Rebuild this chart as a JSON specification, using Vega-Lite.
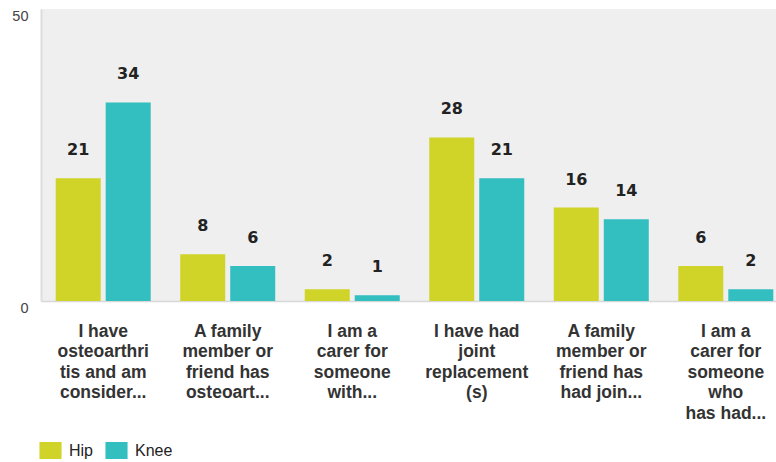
{
  "$schema": "https://vega.github.io/schema/vega-lite/v6.json",
  "width": 735,
  "height": 292,
  "padding": {"left": 5, "top": 8, "right": 0, "bottom": 0},
  "background": "#ffffff",
  "config": {
    "view": {"fill": "#efefef", "stroke": null},
    "axis": {"ticks": false, "grid": false}
  },
  "data": {
    "values": [
      {"cat": "I have|osteoarthri|tis and am|consider...", "ord": 1, "series": "Hip", "value": 21},
      {"cat": "I have|osteoarthri|tis and am|consider...", "ord": 1, "series": "Knee", "value": 34},
      {"cat": "A family|member or|friend has|osteoart...", "ord": 2, "series": "Hip", "value": 8},
      {"cat": "A family|member or|friend has|osteoart...", "ord": 2, "series": "Knee", "value": 6},
      {"cat": "I am a|carer for|someone|with...", "ord": 3, "series": "Hip", "value": 2},
      {"cat": "I am a|carer for|someone|with...", "ord": 3, "series": "Knee", "value": 1},
      {"cat": "I have had|joint|replacement|(s)", "ord": 4, "series": "Hip", "value": 28},
      {"cat": "I have had|joint|replacement|(s)", "ord": 4, "series": "Knee", "value": 21},
      {"cat": "A family|member or|friend has|had join...", "ord": 5, "series": "Hip", "value": 16},
      {"cat": "A family|member or|friend has|had join...", "ord": 5, "series": "Knee", "value": 14},
      {"cat": "I am a|carer for|someone|who|has had...", "ord": 6, "series": "Hip", "value": 6},
      {"cat": "I am a|carer for|someone|who|has had...", "ord": 6, "series": "Knee", "value": 2}
    ]
  },
  "encoding": {
    "x": {
      "field": "cat",
      "type": "nominal",
      "sort": {"field": "ord"},
      "scale": {"range": [0, 747], "paddingInner": 0.237, "paddingOuter": 0.118},
      "axis": {
        "title": null,
        "labelAngle": 0,
        "labelExpr": "split(datum.label, '|')",
        "labelFont": "Liberation Sans",
        "labelFontWeight": "bold",
        "labelFontSize": 17.5,
        "labelColor": "#333333",
        "labelLineHeight": 20.5,
        "labelBaseline": "top",
        "labelPadding": 21,
        "labelLimit": 300,
        "domainColor": "#d8d8d8",
        "domainWidth": 1.5
      }
    },
    "xOffset": {"field": "series", "type": "nominal", "scale": {"paddingInner": 0.1, "paddingOuter": 0}},
    "y": {
      "field": "value",
      "type": "quantitative",
      "scale": {"domain": [0, 50], "nice": false},
      "axis": {
        "title": null,
        "values": [0, 50],
        "labelFont": "Liberation Sans",
        "labelFontSize": 14.5,
        "labelColor": "#444444",
        "labelBaseline": "top",
        "labelPadding": 13,
        "minExtent": 36,
        "maxExtent": 36,
        "domainColor": "#dddddd",
        "domainWidth": 2
      }
    }
  },
  "layer": [
    {
      "mark": {"type": "bar"},
      "encoding": {
        "color": {
          "field": "series",
          "type": "nominal",
          "scale": {"domain": ["Hip", "Knee"], "range": ["#d0d428", "#33bec0"]},
          "legend": {
            "title": null,
            "orient": "none",
            "direction": "horizontal",
            "legendX": 1,
            "legendY": 433,
            "padding": 0,
            "symbolType": "M-1.3,-1H1.3V1H-1.3Z",
            "symbolSize": 289,
            "symbolStrokeWidth": 0,
            "symbolOpacity": 1,
            "labelFont": "Liberation Sans",
            "labelFontSize": 16,
            "labelColor": "#222222",
            "labelOffset": 10,
            "columnPadding": 11
          }
        }
      }
    },
    {
      "mark": {
        "type": "text",
        "dy": -28,
        "font": "DejaVu Sans",
        "fontWeight": "bold",
        "fontSize": 16,
        "color": "#222222",
        "baseline": "middle"
      },
      "encoding": {
        "text": {"field": "value", "type": "quantitative"}
      }
    }
  ]
}
